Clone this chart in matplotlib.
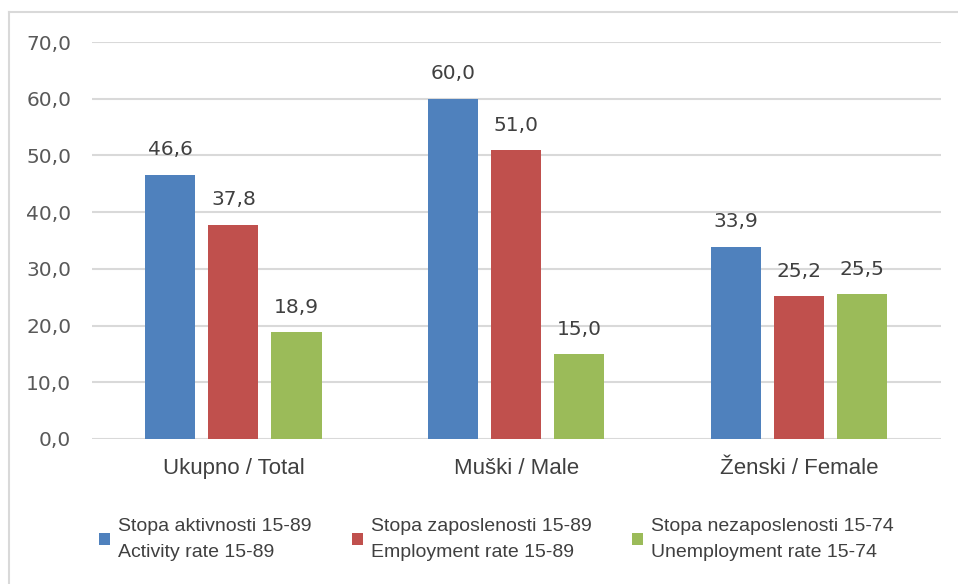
import numpy as np
import matplotlib.pyplot as plt
from matplotlib.lines import Line2D

categories = ['Ukupno / Total', 'Muški / Male', 'Ženski / Female']
activity = [46.6, 60.0, 33.9]
employment = [37.8, 51.0, 25.2]
unemployment = [18.9, 15.0, 25.5]
series_labels = ['Stopa aktivnosti 15-89\nActivity rate 15-89',
                 'Stopa zaposlenosti 15-89\nEmployment rate 15-89',
                 'Stopa nezaposlenosti 15-74\nUnemployment rate 15-74']
yticks = [0, 10, 20, 30, 40, 50, 60, 70]

colors = ['#4F81BD', '#C0504D', '#9BBB59']
sans = ['Liberation Sans', 'DejaVu Sans']

fig = plt.figure(figsize=(9.58, 5.84), dpi=100)
ax = fig.add_axes([0.096, 0.2483, 0.886, 0.6797])

x = np.arange(len(categories))
width = 0.177
step = 0.223
for i, vals in enumerate([activity, employment, unemployment]):
    xs = x + (i - 1) * step
    ax.bar(xs, vals, width, color=colors[i], label=series_labels[i], zorder=3)
    for xx, v in zip(xs, vals):
        ax.annotate(('%.1f' % v).replace('.', ','), (xx, v), xytext=(0, 11),
                    textcoords='offset points', ha='center', va='bottom',
                    fontsize=14.5, color='#404040', family='DejaVu Sans')

ax.set_xlim(-0.5, 2.5)
ax.set_ylim(0, 70)
ax.set_yticks(yticks)
ax.set_yticklabels([('%.1f' % t).replace('.', ',') for t in yticks],
                   fontsize=14.5, color='#595959', family='DejaVu Sans')
ax.set_xticks(x)
ax.set_xticklabels(categories, fontsize=16, color='#404040', family=sans)
ax.tick_params(axis='both', length=0)
ax.tick_params(axis='y', pad=15)
ax.tick_params(axis='x', pad=14)
ax.grid(axis='y', color='#D9D9D9', linewidth=1.5, zorder=0)
for s in ax.spines.values():
    s.set_visible(False)

leg = fig.legend(loc='center', bbox_to_anchor=(0.518, 0.076), ncol=3, frameon=False,
                 prop={'family': sans, 'size': 14}, labelcolor='#404040',
                 handlelength=0.6, handleheight=0.6, handletextpad=0.4,
                 columnspacing=2.05, labelspacing=0.2)
for t in leg.get_texts():
    t.set_linespacing(1.75)

# outer chart border
fig.add_artist(Line2D([9 / 958, 9 / 958], [0, 1 - 12 / 584], transform=fig.transFigure,
                      color='#D9D9D9', linewidth=1.5))
fig.add_artist(Line2D([9 / 958, 1], [1 - 12 / 584, 1 - 12 / 584], transform=fig.transFigure,
                      color='#D9D9D9', linewidth=1.5))

plt.savefig('out.png', dpi=100)
